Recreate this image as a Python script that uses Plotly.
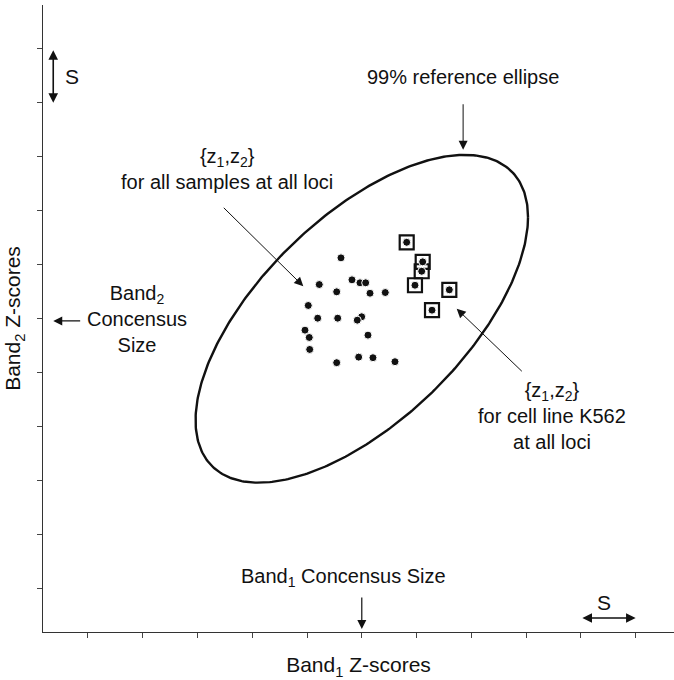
import plotly.graph_objects as go
import numpy as np

# ---- data (z-scores, in units of S) ----
# all samples at all loci
all_x = [-0.033, -0.002, -0.380, -0.776, -0.179, 0.071, -0.458, 0.150, 0.429, -0.977,
         -0.805, -0.440, -0.082, -1.037, -0.959, 0.113, -0.951, -0.458, -0.057, 0.204, 0.606]
all_y = [0.666, 0.037, 1.128, 0.634, 0.721, 0.666, 0.499, 0.473, 0.486, 0.246,
         0.011, 0.011, -0.026, -0.211, -0.346, -0.303, -0.568, -0.813, -0.710, -0.721, -0.795]
# cell line K562 at all loci
k562_x = [0.820, 1.094, 1.112, 0.971, 1.598, 1.282]
k562_y = [1.416, 0.880, 1.054, 0.621, 0.536, 0.159]

# 99% reference ellipse parameters (chi-square, 2 df) and correlation
ELLIPSE_CHI2 = 9.21
ELLIPSE_RHO = 0.62
ELLIPSE_CENTER = (0.0, 0.0)

X_TICKS = [-5, -4, -3, -2, -1, 0, 1, 2, 3, 4, 5]
Y_TICKS = [-5, -4, -3, -2, -1, 0, 1, 2, 3, 4, 5]

FONT = "Liberation Sans, Arial, Helvetica, sans-serif"
INK = "#111111"

# ellipse outline from its parameters
t = np.linspace(0, 2 * np.pi, 400)
R = np.sqrt(ELLIPSE_CHI2)
ex = ELLIPSE_CENTER[0] + R * np.cos(t)
ey = ELLIPSE_CENTER[1] + R * (ELLIPSE_RHO * np.cos(t) + np.sqrt(1 - ELLIPSE_RHO ** 2) * np.sin(t))

fig = go.Figure()
fig.add_trace(go.Scatter(x=ex, y=ey, mode="lines", line=dict(color=INK, width=2.4),
                         hoverinfo="skip", name="99% reference ellipse"))
fig.add_trace(go.Scatter(x=all_x, y=all_y, mode="markers", name="all samples",
                         marker=dict(color=INK, size=8, line=dict(color="white", width=1))))
fig.add_trace(go.Scatter(x=k562_x, y=k562_y, mode="markers", name="K562 boxes",
                         marker=dict(symbol="square-open", color=INK, size=14, line=dict(width=2.2))))
fig.add_trace(go.Scatter(x=k562_x, y=k562_y, mode="markers", name="K562",
                         marker=dict(color=INK, size=8, line=dict(color="white", width=1))))

anns = []


def text_ann(x, y, text, size=20):
    anns.append(dict(x=x, y=y, xref="x", yref="y", text=text, showarrow=False,
                     xanchor="center", yanchor="middle", align="center",
                     font=dict(family=FONT, size=size, color=INK)))


def arrow_ann(x, y, ax, ay, width=1.0, size=1.8, both=False):
    d = dict(x=x, y=y, ax=ax, ay=ay, xref="x", yref="y", axref="x", ayref="y",
             text="", showarrow=True, arrowhead=2, arrowsize=size, arrowwidth=width,
             arrowcolor=INK, standoff=0, startstandoff=0)
    if both:
        d.update(arrowside="end+start", startarrowhead=2, startarrowsize=size)
    anns.append(d)


text_ann(1.853, 4.485, "99% reference ellipse")
arrow_ann(1.85, 3.13, 1.85, 4.0)

text_ann(-2.46, 2.78, "{z<sub>1</sub>,z<sub>2</sub>}<br>for all samples at all loci")
arrow_ann(-1.068, 0.603, -2.547, 2.082)

text_ann(3.473, -1.797, "{z<sub>1</sub>,z<sub>2</sub>}<br>for cell line K562<br>at all loci")
arrow_ann(1.733, 0.185, 2.949, -0.998)

text_ann(-4.10, 0.0, "Band<sub>2</sub><br>Concensus<br>Size")
arrow_ann(-5.633, -0.04, -5.114, -0.04, width=1.2, size=1.5)

text_ann(-0.334, -4.80, "Band<sub>1</sub> Concensus Size")
arrow_ann(0.0, -5.744, 0.0, -5.134, width=1.2, size=1.5)

# S scale bars
text_ann(4.42, -5.245, "S", size=21)
arrow_ann(5.0, -5.54, 4.0, -5.54, width=1.6, size=1.2, both=True)
text_ann(-5.297, 4.485, "S", size=21)
arrow_ann(-5.633, 4.0, -5.633, 5.0, width=1.6, size=1.2, both=True)

axis_common = dict(showgrid=False, zeroline=False, showline=True, linecolor="#333333",
                   linewidth=1, ticks="outside", ticklen=5, tickwidth=1, tickcolor="#444444",
                   showticklabels=False)

fig.update_layout(
    width=674, height=680,
    margin=dict(l=43, r=0, t=5, b=48),
    paper_bgcolor="white", plot_bgcolor="white",
    showlegend=False,
    font=dict(family=FONT, color=INK),
    annotations=anns,
    xaxis=dict(range=[-5.82, 5.70], tickvals=X_TICKS, **axis_common,
               title=dict(text="Band<sub>1</sub> Z-scores", standoff=20,
                          font=dict(family=FONT, size=21, color=INK))),
    yaxis=dict(range=[-5.80, 5.81], tickvals=Y_TICKS, **axis_common,
               title=dict(text="Band<sub>2</sub> Z-scores", standoff=10,
                          font=dict(family=FONT, size=21, color=INK))),
)

fig.write_html("out.html", config={"displayModeBar": False},
               post_script="document.body.style.margin='0';document.body.style.overflow='hidden';")
